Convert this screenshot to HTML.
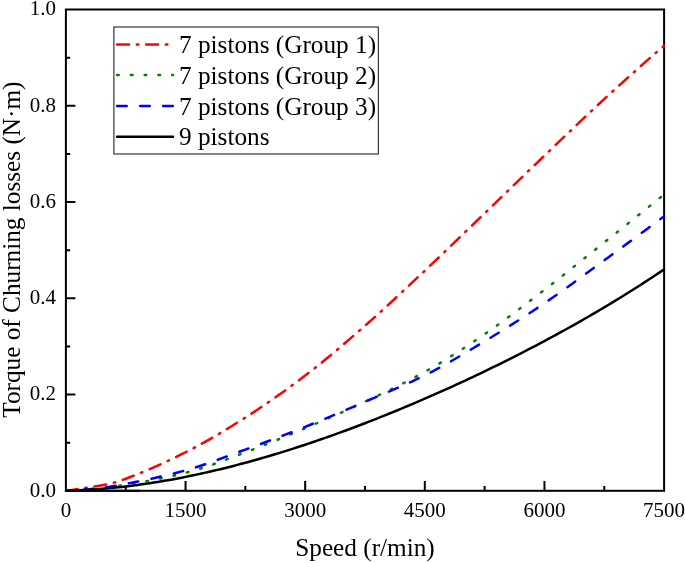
<!DOCTYPE html>
<html><head><meta charset="utf-8"><style>
html,body{margin:0;padding:0;background:#fff;width:685px;height:563px;overflow:hidden}
svg{display:block;will-change:transform}
</style></head><body>
<svg width="685" height="563" viewBox="0 0 685 563"><rect width="685" height="563" fill="#fff"/><rect x="65.9" y="9.5" width="598.2" height="481.3" fill="none" stroke="#000" stroke-width="2.0"/><path d="M125.72,490.8 V485.90 M185.54,490.8 V480.90 M245.36,490.8 V485.90 M305.18,490.8 V480.90 M365.00,490.8 V485.90 M424.82,490.8 V480.90 M484.64,490.8 V485.90 M544.46,490.8 V480.90 M604.28,490.8 V485.90 M65.9,442.67 H70.20 M65.9,394.54 H75.40 M65.9,346.41 H70.20 M65.9,298.28 H75.40 M65.9,250.15 H70.20 M65.9,202.02 H75.40 M65.9,153.89 H70.20 M65.9,105.76 H75.40 M65.9,57.63 H70.20" stroke="#000" stroke-width="2.0" fill="none"/><defs><clipPath id="pc"><rect x="67" y="0" width="640" height="491.6"/></clipPath></defs><g fill="none" stroke-width="2.5" stroke-linecap="round" stroke-linejoin="round" clip-path="url(#pc)"><path d="M66.00,490.80 L69.99,490.21 L73.97,489.63 L77.96,489.03 L81.95,488.44 L85.93,487.84 L89.92,487.26 L93.91,486.68 L97.89,486.06 L101.88,485.35 L105.87,484.55 L109.85,483.65 L113.84,482.66 L117.83,481.51 L121.81,480.17 L125.80,478.72 L129.79,477.22 L133.77,475.68 L137.76,474.10 L141.75,472.48 L145.73,470.81 L149.72,469.11 L153.71,467.36 L157.69,465.59 L161.68,463.77 L165.67,461.93 L169.65,460.05 L173.64,458.14 L177.63,456.21 L181.61,454.24 L185.60,452.25 L189.59,450.22 L193.57,448.14 L197.56,446.01 L201.55,443.83 L205.53,441.61 L209.52,439.34 L213.51,437.04 L217.49,434.70 L221.48,432.32 L225.47,429.91 L229.45,427.48 L233.44,425.02 L237.43,422.53 L241.41,420.02 L245.40,417.50 L249.39,414.94 L253.37,412.35 L257.36,409.73 L261.35,407.06 L265.33,404.36 L269.32,401.63 L273.31,398.86 L277.29,396.06 L281.28,393.23 L285.27,390.36 L289.25,387.46 L293.24,384.53 L297.23,381.57 L301.21,378.57 L305.20,375.55 L309.19,372.49 L313.17,369.38 L317.16,366.22 L321.15,363.01 L325.13,359.76 L329.12,356.48 L333.11,353.16 L337.09,349.80 L341.08,346.42 L345.07,343.02 L349.05,339.59 L353.04,336.14 L357.03,332.68 L361.01,329.20 L365.00,325.72 L368.99,322.21 L372.97,318.67 L376.96,315.10 L380.95,311.50 L384.93,307.86 L388.92,304.21 L392.91,300.53 L396.89,296.84 L400.88,293.13 L404.87,289.40 L408.85,285.67 L412.84,281.92 L416.83,278.18 L420.81,274.43 L424.80,270.68 L428.79,266.93 L432.77,263.16 L436.76,259.37 L440.75,255.57 L444.73,251.76 L448.72,247.93 L452.71,244.10 L456.69,240.26 L460.68,236.41 L464.67,232.56 L468.65,228.71 L472.64,224.86 L476.63,221.02 L480.61,217.17 L484.60,213.34 L488.59,209.50 L492.57,205.66 L496.56,201.81 L500.55,197.96 L504.53,194.10 L508.52,190.25 L512.51,186.39 L516.49,182.53 L520.48,178.68 L524.47,174.83 L528.45,170.99 L532.44,167.15 L536.43,163.32 L540.41,159.49 L544.40,155.68 L548.39,151.87 L552.37,148.06 L556.36,144.25 L560.35,140.44 L564.33,136.63 L568.32,132.83 L572.31,129.03 L576.29,125.24 L580.28,121.46 L584.27,117.69 L588.25,113.94 L592.24,110.21 L596.23,106.49 L600.21,102.79 L604.20,99.11 L608.19,95.46 L612.17,91.81 L616.16,88.18 L620.15,84.57 L624.13,80.96 L628.12,77.37 L632.11,73.80 L636.09,70.24 L640.08,66.69 L644.07,63.16 L648.05,59.64 L652.04,56.13 L656.03,52.64 L660.01,49.16 L664.00,45.70" stroke="#ff0000" stroke-dasharray="11.9 7.8175 1.5 7.8175" stroke-dashoffset="0.28"/><path d="M66.00,490.80 L69.99,490.65 L73.97,490.45 L77.96,490.22 L81.95,489.95 L85.93,489.66 L89.92,489.34 L93.91,488.97 L97.89,488.54 L101.88,488.06 L105.87,487.55 L109.85,487.00 L113.84,486.43 L117.83,485.85 L121.81,485.26 L125.80,484.65 L129.79,484.03 L133.77,483.38 L137.76,482.72 L141.75,482.03 L145.73,481.32 L149.72,480.59 L153.71,479.83 L157.69,479.05 L161.68,478.24 L165.67,477.41 L169.65,476.55 L173.64,475.66 L177.63,474.75 L181.61,473.80 L185.60,472.82 L189.59,471.79 L193.57,470.69 L197.56,469.51 L201.55,468.26 L205.53,466.96 L209.52,465.61 L213.51,464.22 L217.49,462.79 L221.48,461.33 L225.47,459.85 L229.45,458.35 L233.44,456.85 L237.43,455.34 L241.41,453.84 L245.40,452.36 L249.39,450.87 L253.37,449.35 L257.36,447.81 L261.35,446.26 L265.33,444.68 L269.32,443.08 L273.31,441.47 L277.29,439.84 L281.28,438.20 L285.27,436.55 L289.25,434.89 L293.24,433.22 L297.23,431.55 L301.21,429.87 L305.20,428.18 L309.19,426.50 L313.17,424.80 L317.16,423.10 L321.15,421.38 L325.13,419.66 L329.12,417.92 L333.11,416.18 L337.09,414.42 L341.08,412.65 L345.07,410.86 L349.05,409.07 L353.04,407.25 L357.03,405.42 L361.01,403.58 L365.00,401.72 L368.99,399.84 L372.97,397.97 L376.96,396.09 L380.95,394.19 L384.93,392.29 L388.92,390.37 L392.91,388.42 L396.89,386.46 L400.88,384.48 L404.87,382.46 L408.85,380.42 L412.84,378.34 L416.83,376.22 L420.81,374.07 L424.80,371.87 L428.79,369.62 L432.77,367.33 L436.76,364.99 L440.75,362.60 L444.73,360.17 L448.72,357.71 L452.71,355.20 L456.69,352.66 L460.68,350.09 L464.67,347.49 L468.65,344.87 L472.64,342.22 L476.63,339.54 L480.61,336.85 L484.60,334.14 L488.59,331.40 L492.57,328.61 L496.56,325.78 L500.55,322.91 L504.53,320.00 L508.52,317.07 L512.51,314.10 L516.49,311.11 L520.48,308.10 L524.47,305.07 L528.45,302.03 L532.44,298.98 L536.43,295.92 L540.41,292.86 L544.40,289.81 L548.39,286.74 L552.37,283.66 L556.36,280.55 L560.35,277.42 L564.33,274.28 L568.32,271.12 L572.31,267.96 L576.29,264.78 L580.28,261.60 L584.27,258.41 L588.25,255.21 L592.24,252.02 L596.23,248.83 L600.21,245.64 L604.20,242.46 L608.19,239.28 L612.17,236.10 L616.16,232.92 L620.15,229.73 L624.13,226.54 L628.12,223.35 L632.11,220.15 L636.09,216.96 L640.08,213.76 L644.07,210.55 L648.05,207.35 L652.04,204.14 L656.03,200.93 L660.01,197.72 L664.00,194.50" stroke="#008000" stroke-dasharray="1.6 12.181" stroke-dashoffset="1.55"/><path d="M66.00,490.80 L69.99,490.61 L73.97,490.37 L77.96,490.10 L81.95,489.80 L85.93,489.48 L89.92,489.13 L93.91,488.73 L97.89,488.29 L101.88,487.80 L105.87,487.28 L109.85,486.72 L113.84,486.11 L117.83,485.42 L121.81,484.68 L125.80,483.91 L129.79,483.13 L133.77,482.34 L137.76,481.54 L141.75,480.72 L145.73,479.89 L149.72,479.03 L153.71,478.16 L157.69,477.27 L161.68,476.36 L165.67,475.42 L169.65,474.46 L173.64,473.47 L177.63,472.45 L181.61,471.41 L185.60,470.33 L189.59,469.20 L193.57,468.01 L197.56,466.76 L201.55,465.46 L205.53,464.12 L209.52,462.74 L213.51,461.32 L217.49,459.88 L221.48,458.42 L225.47,456.94 L229.45,455.45 L233.44,453.97 L237.43,452.48 L241.41,451.01 L245.40,449.55 L249.39,448.11 L253.37,446.65 L257.36,445.18 L261.35,443.71 L265.33,442.23 L269.32,440.74 L273.31,439.24 L277.29,437.73 L281.28,436.21 L285.27,434.69 L289.25,433.15 L293.24,431.60 L297.23,430.04 L301.21,428.46 L305.20,426.88 L309.19,425.28 L313.17,423.66 L317.16,422.03 L321.15,420.39 L325.13,418.73 L329.12,417.06 L333.11,415.38 L337.09,413.69 L341.08,411.99 L345.07,410.28 L349.05,408.57 L353.04,406.86 L357.03,405.14 L361.01,403.43 L365.00,401.71 L368.99,400.00 L372.97,398.30 L376.96,396.62 L380.95,394.93 L384.93,393.25 L388.92,391.57 L392.91,389.87 L396.89,388.16 L400.88,386.43 L404.87,384.67 L408.85,382.88 L412.84,381.06 L416.83,379.20 L420.81,377.30 L424.80,375.35 L428.79,373.34 L432.77,371.28 L436.76,369.16 L440.75,367.00 L444.73,364.79 L448.72,362.55 L452.71,360.27 L456.69,357.96 L460.68,355.62 L464.67,353.27 L468.65,350.89 L472.64,348.50 L476.63,346.11 L480.61,343.71 L484.60,341.31 L488.59,338.91 L492.57,336.48 L496.56,334.05 L500.55,331.59 L504.53,329.11 L508.52,326.62 L512.51,324.10 L516.49,321.57 L520.48,319.02 L524.47,316.45 L528.45,313.85 L532.44,311.24 L536.43,308.60 L540.41,305.95 L544.40,303.27 L548.39,300.56 L552.37,297.82 L556.36,295.04 L560.35,292.22 L564.33,289.39 L568.32,286.52 L572.31,283.64 L576.29,280.74 L580.28,277.83 L584.27,274.91 L588.25,271.99 L592.24,269.07 L596.23,266.15 L600.21,263.23 L604.20,260.33 L608.19,257.43 L612.17,254.53 L616.16,251.62 L620.15,248.71 L624.13,245.79 L628.12,242.87 L632.11,239.95 L636.09,237.02 L640.08,234.09 L644.07,231.15 L648.05,228.21 L652.04,225.26 L656.03,222.31 L660.01,219.36 L664.00,216.40" stroke="#0000ff" stroke-dasharray="9.6 13.43" stroke-dashoffset="5.75"/><path d="M66.00,490.80 L69.99,490.68 L73.97,490.54 L77.96,490.37 L81.95,490.18 L85.93,489.96 L89.92,489.71 L93.91,489.44 L97.89,489.15 L101.88,488.83 L105.87,488.49 L109.85,488.13 L113.84,487.74 L117.83,487.33 L121.81,486.89 L125.80,486.43 L129.79,485.95 L133.77,485.44 L137.76,484.91 L141.75,484.36 L145.73,483.79 L149.72,483.20 L153.71,482.58 L157.69,481.94 L161.68,481.28 L165.67,480.60 L169.65,479.90 L173.64,479.17 L177.63,478.43 L181.61,477.66 L185.60,476.88 L189.59,476.07 L193.57,475.24 L197.56,474.40 L201.55,473.53 L205.53,472.65 L209.52,471.74 L213.51,470.82 L217.49,469.87 L221.48,468.91 L225.47,467.93 L229.45,466.93 L233.44,465.92 L237.43,464.88 L241.41,463.83 L245.40,462.76 L249.39,461.67 L253.37,460.56 L257.36,459.44 L261.35,458.30 L265.33,457.15 L269.32,455.97 L273.31,454.78 L277.29,453.58 L281.28,452.36 L285.27,451.12 L289.25,449.86 L293.24,448.59 L297.23,447.31 L301.21,446.01 L305.20,444.69 L309.19,443.36 L313.17,442.02 L317.16,440.65 L321.15,439.28 L325.13,437.89 L329.12,436.48 L333.11,435.06 L337.09,433.63 L341.08,432.18 L345.07,430.72 L349.05,429.25 L353.04,427.76 L357.03,426.26 L361.01,424.74 L365.00,423.21 L368.99,421.67 L372.97,420.11 L376.96,418.54 L380.95,416.96 L384.93,415.36 L388.92,413.75 L392.91,412.13 L396.89,410.50 L400.88,408.85 L404.87,407.19 L408.85,405.52 L412.84,403.83 L416.83,402.13 L420.81,400.42 L424.80,398.70 L428.79,396.97 L432.77,395.22 L436.76,393.46 L440.75,391.68 L444.73,389.90 L448.72,388.10 L452.71,386.29 L456.69,384.46 L460.68,382.63 L464.67,380.78 L468.65,378.92 L472.64,377.04 L476.63,375.16 L480.61,373.26 L484.60,371.34 L488.59,369.42 L492.57,367.48 L496.56,365.53 L500.55,363.56 L504.53,361.59 L508.52,359.59 L512.51,357.59 L516.49,355.57 L520.48,353.54 L524.47,351.49 L528.45,349.43 L532.44,347.36 L536.43,345.27 L540.41,343.16 L544.40,341.05 L548.39,338.91 L552.37,336.76 L556.36,334.60 L560.35,332.42 L564.33,330.23 L568.32,328.02 L572.31,325.79 L576.29,323.55 L580.28,321.29 L584.27,319.01 L588.25,316.72 L592.24,314.41 L596.23,312.08 L600.21,309.73 L604.20,307.37 L608.19,304.99 L612.17,302.58 L616.16,300.16 L620.15,297.72 L624.13,295.26 L628.12,292.78 L632.11,290.28 L636.09,287.76 L640.08,285.21 L644.07,282.65 L648.05,280.06 L652.04,277.45 L656.03,274.81 L660.01,272.16 L664.00,269.47" stroke="#000000"/></g><path d="M64.9,490.8 H140" stroke="#000" stroke-width="2.0"/><g font-family='"Liberation Serif", serif' font-size="21" fill="#000"><text x="65.90" y="516.6" text-anchor="middle">0</text><text x="185.54" y="516.6" text-anchor="middle">1500</text><text x="305.18" y="516.6" text-anchor="middle">3000</text><text x="424.82" y="516.6" text-anchor="middle">4500</text><text x="544.46" y="516.6" text-anchor="middle">6000</text><text x="664.10" y="516.6" text-anchor="middle">7500</text><text x="56" y="496.60" text-anchor="end">0.0</text><text x="56" y="400.34" text-anchor="end">0.2</text><text x="56" y="304.08" text-anchor="end">0.4</text><text x="56" y="207.82" text-anchor="end">0.6</text><text x="56" y="111.56" text-anchor="end">0.8</text><text x="56" y="15.30" text-anchor="end">1.0</text></g><text x="365" y="556" text-anchor="middle" font-family='"Liberation Serif", serif' font-size="25.25">Speed (r/min)</text><text transform="translate(20,249.6) rotate(-90)" text-anchor="middle" font-family='"Liberation Serif", serif' font-size="25.25">Torque of Churning losses (N&#183;m)</text><rect x="113.9" y="27" width="264.4" height="127" fill="#fff" stroke="#000" stroke-width="0.95"/><path d="M117.1,44.5 H173" stroke="#ff0000" stroke-width="2.5" stroke-linecap="round" fill="none" stroke-dasharray="11.9 7.8175 1.5 7.8175"/><text x="179" y="52.6" font-family='"Liberation Serif", serif' font-size="25.25">7 pistons (Group 1)</text><path d="M117.1,75.1 H173" stroke="#008000" stroke-width="2.5" stroke-linecap="round" fill="none" stroke-dasharray="1.6 12.181"/><text x="179" y="83.8" font-family='"Liberation Serif", serif' font-size="25.25">7 pistons (Group 2)</text><path d="M117.1,106.0 H173" stroke="#0000ff" stroke-width="2.5" stroke-linecap="round" fill="none" stroke-dasharray="9.6 13.43"/><text x="179" y="114.9" font-family='"Liberation Serif", serif' font-size="25.25">7 pistons (Group 3)</text><path d="M117.1,136.8 H173" stroke="#000000" stroke-width="2.5" stroke-linecap="round" fill="none"/><text x="179" y="145.4" font-family='"Liberation Serif", serif' font-size="25.25">9 pistons</text></svg>
</body></html>
